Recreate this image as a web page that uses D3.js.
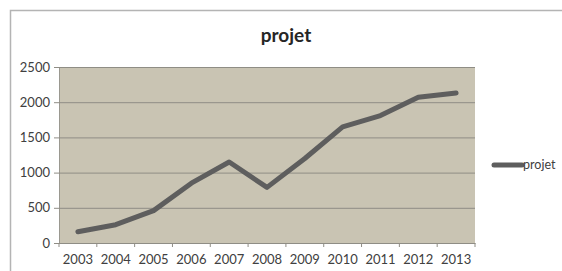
<!DOCTYPE html>
<html>
<head>
<meta charset="utf-8">
<script src="https://cdn.jsdelivr.net/npm/d3@7"></script>
<style>
  body { margin: 0; background: #fff; }
  text { font-family: Lato, "Open Sans", sans-serif; fill: #404040; }
</style>
</head>
<body>
<svg id="chart"></svg>
<script>
var years = ["2003", "2004", "2005", "2006", "2007", "2008", "2009", "2010", "2011", "2012", "2013"];
var projet = [160, 260, 460, 850, 1150, 790, 1200, 1650, 1810, 2070, 2130];
var yTicks = [0, 500, 1000, 1500, 2000, 2500];

var width = 562,
    height = 271;

var svg = d3.select("#chart")
    .attr("width", width)
    .attr("height", height);

// outer chart frame (continues off the picture)
svg.append("path")
    .attr("d", "M10.5," + (height + 2) + "V10.5H" + (width + 2))
    .attr("fill", "none")
    .attr("stroke", "#b4b4b4")
    .attr("stroke-width", 1.5);

var x = d3.scaleBand()
    .domain(years)
    .range([59, 475]);

var y = d3.scaleLinear()
    .domain([0, 2500])
    .range([243, 67]);

svg.append("text")
    .attr("x", 286)
    .attr("y", 42)
    .attr("text-anchor", "middle")
    .style("font-size", "19px")
    .style("font-weight", "bold")
    .style("fill", "#262626")
    .text("projet");

svg.append("rect")
    .attr("x", x.range()[0])
    .attr("y", y(2500))
    .attr("width", x.range()[1] - x.range()[0])
    .attr("height", y(0) - y(2500))
    .attr("fill", "#c9c4b3");

// gridlines + y axis
var yAxis = d3.axisLeft(y)
    .tickValues(yTicks)
    .tickFormat(d3.format("d"))
    .tickSize(-(x.range()[1] - x.range()[0]))
    .tickPadding(9);

var gy = svg.append("g")
    .attr("transform", "translate(" + x.range()[0] + ",0)")
    .call(yAxis);
gy.select(".domain").attr("stroke", "#9a9890");
gy.selectAll(".tick line")
    .attr("x1", -5)
    .attr("stroke", "#8f8d85");
gy.selectAll(".tick text")
    .style("font-size", "13px")
    .attr("fill", "#404040");

// x axis
var xAxis = d3.axisBottom(x)
    .tickSize(0)
    .tickPadding(12);

var gx = svg.append("g")
    .attr("transform", "translate(0," + y(0) + ")")
    .call(xAxis);
gx.select(".domain").attr("stroke", "#8f8d85");
gx.selectAll(".tick text")
    .style("font-size", "13px")
    .attr("fill", "#404040");

gx.selectAll(".bound")
    .data(d3.range(years.length + 1))
    .enter().append("line")
    .attr("x1", function (i) { return x.range()[0] + i * x.step(); })
    .attr("x2", function (i) { return x.range()[0] + i * x.step(); })
    .attr("y1", 0)
    .attr("y2", 4)
    .attr("stroke", "#8f8d85");

var line = d3.line()
    .x(function (d, i) { return x(years[i]) + x.bandwidth() / 2; })
    .y(function (d) { return y(d); });

svg.append("path")
    .datum(projet)
    .attr("d", line)
    .attr("fill", "none")
    .attr("stroke", "#5e5e5e")
    .attr("stroke-width", 5)
    .attr("stroke-linejoin", "round")
    .attr("stroke-linecap", "round");

// legend
var leg = svg.append("g").attr("transform", "translate(494,165)");
leg.append("line")
    .attr("x1", 0)
    .attr("x2", 28)
    .attr("stroke", "#5e5e5e")
    .attr("stroke-width", 5)
    .attr("stroke-linecap", "round");
leg.append("text")
    .attr("x", 29)
    .attr("dy", "0.35em")
    .style("font-size", "12.5px")
    .text("projet");
</script>
</body>
</html>
